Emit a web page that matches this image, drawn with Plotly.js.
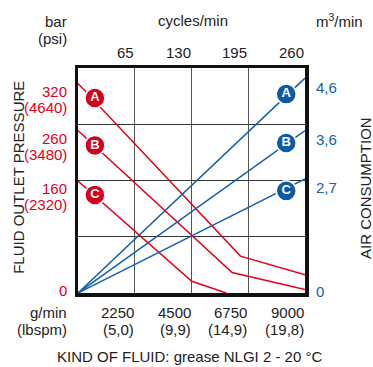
<!DOCTYPE html>
<html>
<head>
<meta charset="utf-8">
<script src="https://cdn.plot.ly/plotly-3.0.1.min.js"></script>
<style>html,body{margin:0;padding:0;background:#fff;}#chart{width:373px;height:367px;}</style>
</head>
<body>
<div id="chart"></div>
<script>
// ---- data (flow in g/min; vertical values in chart units, % of plot height) ----
const series = ['A', 'B', 'C'];
const flowTicks = [2250, 4500, 6750, 9000];
const flowLbsLabels = ['(5,0)', '(9,9)', '(14,9)', '(19,8)'];
const cycleTicks = [65, 130, 195, 260];
const pressureBarLabels = ['320', '260', '160'];
const pressurePsiLabels = ['(4640)', '(3480)', '(2320)'];
const airLabels = ['4,6', '3,6', '2,7'];

const pressA_x = [0, 6440, 9000];
const pressA_y = [93.1, 16.4, 8.1];
const pressB_x = [0, 6110, 9000];
const pressB_y = [72.2, 9.1, 1.5];
const pressC_x = [0, 4510, 5880];
const pressC_y = [49.8, 5.2, 0];

const air_x = [0, 9000];
const airA_y = [0, 95.5];
const airB_y = [0, 72.2];
const airC_y = [0, 50.7];

const pressMarker_x = [670, 670, 670];
const pressMarker_y = [86.7, 65.6, 43.6];
const airMarker_x = [8255, 8255, 8255];
const airMarker_y = [88.4, 66.7, 45.4];

// ---- styling ----
const RED = '#e2001a', BLUE = '#1461ab', INK = '#222';
const FONT = '"Liberation Sans", Arial, sans-serif';
const FS = 15;
const L = 78, R = 305, T = 68, B = 293;
const px = v => (v - L) / (R - L);
const py = v => (B - v) / (B - T);

const pressX = [pressA_x, pressB_x, pressC_x];
const pressY = [pressA_y, pressB_y, pressC_y];
const airY = [airA_y, airB_y, airC_y];

const traces = [];
for (let i = 0; i < 3; i++) {
  traces.push({x: pressX[i], y: pressY[i], mode: 'lines', line: {color: RED, width: 1.5}, hoverinfo: 'skip', showlegend: false});
  traces.push({x: air_x, y: airY[i], mode: 'lines', line: {color: BLUE, width: 1.5}, hoverinfo: 'skip', showlegend: false});
}
const markerTrace = (xs, ys, col) => ({
  x: xs, y: ys, mode: 'markers+text', text: series, textposition: 'middle center',
  textfont: {family: '"Liberation Sans", sans-serif', size: 13, color: '#fff', weight: 'bold'},
  marker: {size: 20, color: col, line: {color: '#fff', width: 1.5}},
  hoverinfo: 'skip', showlegend: false, cliponaxis: false
});
traces.push(markerTrace(pressMarker_x, pressMarker_y, '#d6001c'));
traces.push(markerTrace(airMarker_x, airMarker_y, '#0e5aa5'));

const ann = [];
const txt = (o) => Object.assign({showarrow: false, font: {family: FONT, size: FS, color: INK}}, o);

// top-left units
ann.push(txt({text: 'bar', xref: 'paper', yref: 'paper', x: px(69), y: py(21.7), xanchor: 'right', yanchor: 'middle'}));
ann.push(txt({text: '(psi)', xref: 'paper', yref: 'paper', x: px(69), y: py(38.3), xanchor: 'right', yanchor: 'middle'}));
ann.push(txt({text: 'cycles/min', xref: 'paper', yref: 'paper', x: px(193), y: py(20.7), xanchor: 'center', yanchor: 'middle'}));
ann.push(txt({text: 'm<sup>3</sup>/min', xref: 'paper', yref: 'paper', x: px(314), y: py(20.7), xanchor: 'left', yanchor: 'middle'}));
// top ticks (cycles/min)
cycleTicks.forEach(c => ann.push(txt({text: String(c), xref: 'x2', yref: 'paper', x: c, y: py(52.5), xanchor: 'right', yanchor: 'middle', xshift: 1})));
// bottom ticks
ann.push(txt({text: 'g/min', xref: 'paper', yref: 'paper', x: px(69), y: py(312), xanchor: 'right', yanchor: 'middle'}));
ann.push(txt({text: '(lbspm)', xref: 'paper', yref: 'paper', x: px(69), y: py(329), xanchor: 'right', yanchor: 'middle'}));
flowTicks.forEach((f, i) => {
  ann.push(txt({text: String(f), xref: 'x', yref: 'paper', x: f, y: py(312), xanchor: 'right', yanchor: 'middle', xshift: 1}));
  ann.push(txt({text: flowLbsLabels[i], xref: 'x', yref: 'paper', x: f, y: py(329), xanchor: 'right', yanchor: 'middle', xshift: 1}));
});
// left pressure labels (red) and right air labels (blue)
for (let i = 0; i < 3; i++) {
  ann.push(txt({text: pressureBarLabels[i], xref: 'paper', yref: 'y', x: px(69), y: pressY[i][0], xanchor: 'right', yanchor: 'middle', yshift: -7.5, font: {family: FONT, size: FS, color: RED}}));
  ann.push(txt({text: pressurePsiLabels[i], xref: 'paper', yref: 'y', x: px(69), y: pressY[i][0], xanchor: 'right', yanchor: 'middle', yshift: -24, font: {family: FONT, size: FS, color: RED}}));
  ann.push(txt({text: airLabels[i], xref: 'paper', yref: 'y', x: px(314), y: airY[i][1], xanchor: 'left', yanchor: 'middle', yshift: -9, font: {family: FONT, size: FS, color: BLUE}}));
}
ann.push(txt({text: '0', xref: 'paper', yref: 'y', x: px(69), y: 0, xanchor: 'right', yanchor: 'middle', yshift: 2.5, font: {family: FONT, size: FS, color: RED}}));
ann.push(txt({text: '0', xref: 'paper', yref: 'y', x: px(314), y: 0, xanchor: 'left', yanchor: 'middle', yshift: 1.5, font: {family: FONT, size: FS, color: BLUE}}));
// axis titles
ann.push(txt({text: 'FLUID OUTLET PRESSURE', xref: 'paper', yref: 'paper', x: px(18.3), y: py(177.5), xanchor: 'center', yanchor: 'middle', textangle: -90}));
ann.push(txt({text: 'AIR CONSUMPTION', xref: 'paper', yref: 'paper', x: px(365), y: py(188), xanchor: 'center', yanchor: 'middle', textangle: -90}));
ann.push(txt({text: 'KIND OF FLUID: grease NLGI 2 - 20 °C', xref: 'paper', yref: 'paper', x: px(189), y: py(356.7), xanchor: 'center', yanchor: 'middle'}));

const layout = {
  width: 373, height: 367,
  margin: {l: L, r: 373 - R, t: T, b: 367 - B, pad: 0},
  paper_bgcolor: '#fff', plot_bgcolor: '#fff',
  showlegend: false,
  xaxis: {range: [0, 9000], tickvals: flowTicks.slice(0, 3), showticklabels: false, ticks: '',
          showgrid: true, gridcolor: '#555', gridwidth: 1.3, zeroline: false,
          showline: true, mirror: true, linecolor: '#111', linewidth: 3.5, fixedrange: true},
  xaxis2: {range: [0, 260], overlaying: 'x', side: 'top', showticklabels: false, ticks: '',
           showgrid: false, zeroline: false, showline: false, fixedrange: true},
  yaxis: {range: [0, 100], tickvals: [25, 50, 75], showticklabels: false, ticks: '',
          showgrid: true, gridcolor: '#333', gridwidth: 1.3, zeroline: false,
          showline: true, mirror: true, linecolor: '#111', linewidth: 3.5, fixedrange: true},
  annotations: ann
};

Plotly.newPlot('chart', traces, layout, {displayModeBar: false, staticPlot: true});
</script>
</body>
</html>
